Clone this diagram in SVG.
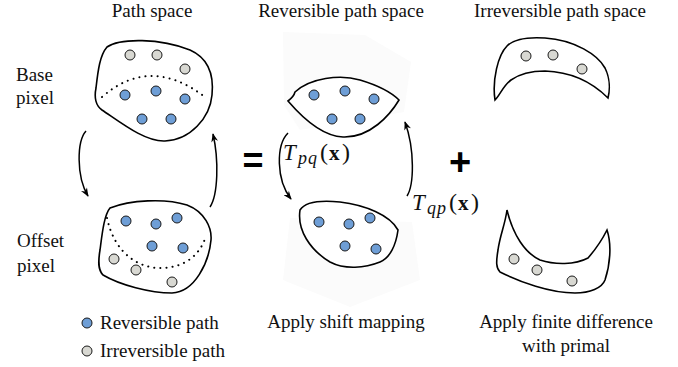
<svg xmlns="http://www.w3.org/2000/svg" width="678" height="367" viewBox="0 0 678 367">
<defs>
<style>
.t{font-family:"Liberation Serif","Times New Roman",serif;font-size:19px;fill:#111}
.m{font-family:"Liberation Serif","Times New Roman",serif;fill:#111}
.op{font-family:"Liberation Sans",Arial,sans-serif;font-weight:bold;fill:#000}
.blob{fill:#fff;stroke:#000;stroke-width:1.6}
.dot{fill:none;stroke:#000;stroke-width:2;stroke-linecap:round;stroke-dasharray:0.1 6}
.b{fill:#6e9ed6;stroke:#1a1a1a;stroke-width:1}
.g{fill:#d8d8d2;stroke:#1a1a1a;stroke-width:1}
.arr{fill:none;stroke:#000;stroke-width:1.5;marker-end:url(#ah)}
.faint{fill:#fbfbfb}
</style>
<marker id="ah" viewBox="0 0 10 8" refX="9" refY="4" markerWidth="10" markerHeight="7" markerUnits="userSpaceOnUse" orient="auto">
<path d="M0,0 L10,4 L0,8 L3,4 Z" fill="#000"/>
</marker>
</defs>

<g id="headers">
<text class="t" x="152" y="17" text-anchor="middle">Path space</text>
<text class="t" x="341" y="17" text-anchor="middle">Reversible path space</text>
<text class="t" x="560" y="17" text-anchor="middle">Irreversible path space</text>
</g>

<g id="row-labels">
<text class="t" x="16" y="81">Base</text>
<text class="t" x="16" y="104">pixel</text>
<text class="t" x="17" y="247">Offset</text>
<text class="t" x="17" y="272">pixel</text>
</g>

<g id="faint-bg">
<polygon class="faint" points="283,32 365,35 411,62 404,112 300,130 284,105"/>
<polygon class="faint" points="290,218 412,222 420,280 350,307 283,280"/>
</g>

<g id="base-space">
<path class="blob" d="M107,47 C120,38 160,38 190,50 C208,58 214,75 212,95 C210,118 190,140 165,141 C145,142 120,122 102,110 C95,105 94,98 96,88 C98,70 100,55 107,47 Z"/>
<path class="dot" d="M102,97 Q150,55 205,97"/>
<circle class="g" cx="130" cy="55" r="5"/>
<circle class="g" cx="157" cy="55" r="5"/>
<circle class="g" cx="185" cy="69" r="5"/>
<circle class="b" cx="125" cy="95" r="5"/>
<circle class="b" cx="156" cy="91" r="5"/>
<circle class="b" cx="185" cy="99" r="5"/>
<circle class="b" cx="142" cy="119" r="5"/>
<circle class="b" cx="171" cy="119" r="5"/>
</g>

<g id="offset-space">
<path class="blob" d="M110,208 C130,200 165,198 187,205 C205,212 212,228 211,240 C209,262 195,292 172,293 C150,293 120,285 103,275 C98,270 98,262 100,250 C102,235 104,215 110,208 Z"/>
<path class="dot" d="M107,218 C115,255 140,268 160,268 C185,268 200,255 206,236"/>
<circle class="b" cx="126" cy="221" r="5"/>
<circle class="b" cx="156" cy="224" r="5"/>
<circle class="b" cx="177" cy="218" r="5"/>
<circle class="b" cx="152" cy="246" r="5"/>
<circle class="b" cx="183" cy="248" r="5"/>
<circle class="g" cx="114" cy="259" r="5"/>
<circle class="g" cx="136" cy="270" r="5"/>
<circle class="g" cx="172" cy="282" r="5"/>
</g>

<g id="legend">
<circle class="b" cx="87" cy="323" r="5"/>
<text class="t" x="100" y="329">Reversible path</text>
<circle class="g" cx="87" cy="351" r="5"/>
<text class="t" x="100" y="357">Irreversible path</text>
</g>

<g id="rev-base">
<path class="blob" d="M288,101 C292,98 294,96 295,92 C310,78 340,74 360,80 C380,86 393,94 399,100 C390,115 370,138 343,137 C320,136 300,115 288,101 Z"/>
<circle class="b" cx="314" cy="95" r="5"/>
<circle class="b" cx="345" cy="91" r="5"/>
<circle class="b" cx="374" cy="99" r="5"/>
<circle class="b" cx="332" cy="119" r="5"/>
<circle class="b" cx="360" cy="119" r="5"/>
</g>

<g id="rev-offset">
<path class="blob" d="M300,210 C305,202 320,200 340,202 C365,205 390,215 398,230 C396,245 390,258 380,262 C365,268 345,270 330,262 C310,250 297,230 300,210 Z"/>
<circle class="b" cx="319" cy="222" r="5"/>
<circle class="b" cx="349" cy="224" r="5"/>
<circle class="b" cx="370" cy="218" r="5"/>
<circle class="b" cx="345" cy="246" r="5"/>
<circle class="b" cx="376" cy="249" r="5"/>
<text class="t" x="346" y="328" text-anchor="middle">Apply shift mapping</text>
</g>

<g id="irr-base">
<path class="blob" d="M495,100 C492,80 498,55 507,46 C515,38 530,37 545,38 C575,40 598,55 605,68 C610,78 610,90 608,98 C595,85 575,72 545,71 C530,71 518,75 511,80 C503,86 500,95 495,100 Z"/>
<circle class="g" cx="526" cy="56" r="5"/>
<circle class="g" cx="553" cy="55" r="5"/>
<circle class="g" cx="582" cy="69" r="5"/>
</g>

<g id="irr-offset">
<path class="blob" d="M507,210 C505,225 500,235 498,250 C496,262 496,268 500,272 C520,282 550,293 575,293 C590,293 602,288 605,280 C610,265 612,245 607,230 C602,240 595,250 588,258 C575,265 555,265 540,260 C525,253 513,235 507,210 Z"/>
<circle class="g" cx="514" cy="259" r="5"/>
<circle class="g" cx="537" cy="270" r="5"/>
<circle class="g" cx="572" cy="281" r="5"/>
<text class="t" x="566" y="328" text-anchor="middle">Apply finite difference</text>
<text class="t" x="566" y="352" text-anchor="middle">with primal</text>
</g>

<g id="operators">
<text class="op" x="253" y="173" font-size="36" text-anchor="middle">=</text>
<text class="op" x="460" y="175" font-size="38" text-anchor="middle">+</text>
</g>

<g id="connectors">
<path class="arr" d="M86,131 C77,141 76,176 88,196"/>
<path class="arr" d="M210,207 C218,195 219,160 213,134"/>
<path class="arr" d="M288,133 C276,145 276,180 291,199"/>
<path class="arr" d="M407,196 C414,185 415,150 405,122"/>
</g>

<g id="mapping-labels">
<text class="m" y="160"><tspan x="283" font-size="23" font-style="italic">T</tspan><tspan x="298" y="164" font-size="18" font-style="italic" letter-spacing="1">pq</tspan><tspan x="320" y="160" font-size="24">(</tspan><tspan x="329" font-size="21" font-weight="bold">x</tspan><tspan x="342" font-size="24">)</tspan></text>
<text class="m" y="210"><tspan x="412" font-size="23" font-style="italic">T</tspan><tspan x="427" y="214" font-size="18" font-style="italic" letter-spacing="1">qp</tspan><tspan x="449" y="210" font-size="24">(</tspan><tspan x="458" font-size="21" font-weight="bold">x</tspan><tspan x="471" font-size="24">)</tspan></text>
</g>
</svg>
